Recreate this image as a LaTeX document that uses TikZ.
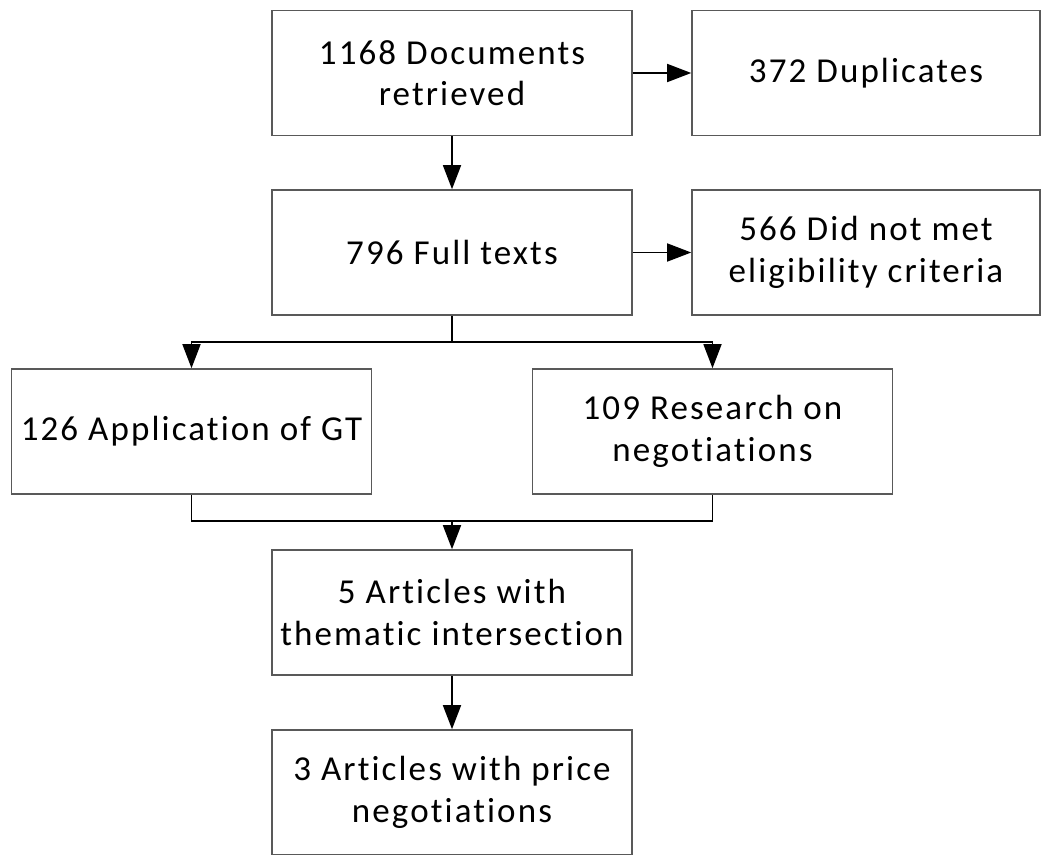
\documentclass[tikz,border=0pt]{standalone}
\usepackage{fontspec}
\setmainfont{Carlito}[Ligatures=NoCommon, LetterSpace=6]
\usetikzlibrary{arrows.meta}
\begin{document}
\begin{tikzpicture}[x=1pt,y=-1pt,
  box/.style={draw=black!65, line width=1.6pt, rectangle, align=center,
    inner sep=0pt, font=\fontsize{35}{41.5}\selectfont},
  wide/.style={minimum width=360pt, minimum height=125pt},
  side/.style={minimum width=348pt, minimum height=125pt},
  link/.style={line width=1.6pt, draw=black},
  arr/.style={link, -{Triangle[length=24pt,width=18pt]}}]
\useasboundingbox (0,0) rectangle (1043,854);
\clip (0,0) rectangle (1043,854);
\node[box,wide] (docs) at (452,73) {1168 Documents\\retrieved};
\node[box,side] (dup) at (866,73) {372 Duplicates};
\node[box,wide] (full) at (452,252.5) {796 Full texts};
\node[box,side] (elig) at (866,252.5) {566 Did not met\\eligibility criteria};
\node[box,wide] (gt) at (191.5,431.5) {126 Application of GT};
\node[box,wide] (neg) at (712.5,431.5) {109 Research on\\negotiations};
\node[box,wide] (inter) at (452,612.5) {5 Articles with\\thematic intersection};
\node[box,wide] (price) at (452,792.5) {3 Articles with price\\negotiations};
\coordinate (split) at (452,342);
\coordinate (merge) at (452,521);
\draw[arr] (docs.east) -- (dup.west);
\draw[arr] (docs.south) -- (full.north);
\draw[arr] (full.east) -- (elig.west);
\draw[link] (full.south) -- (split);
\draw[arr] (split) -| (gt.north);
\draw[arr] (split) -| (neg.north);
\draw[link] (gt.south) |- (merge);
\draw[link] (neg.south) |- (merge);
\draw[arr] (merge) -- (inter.north);
\draw[arr] (inter.south) -- (price.north);
\end{tikzpicture}
\end{document}
